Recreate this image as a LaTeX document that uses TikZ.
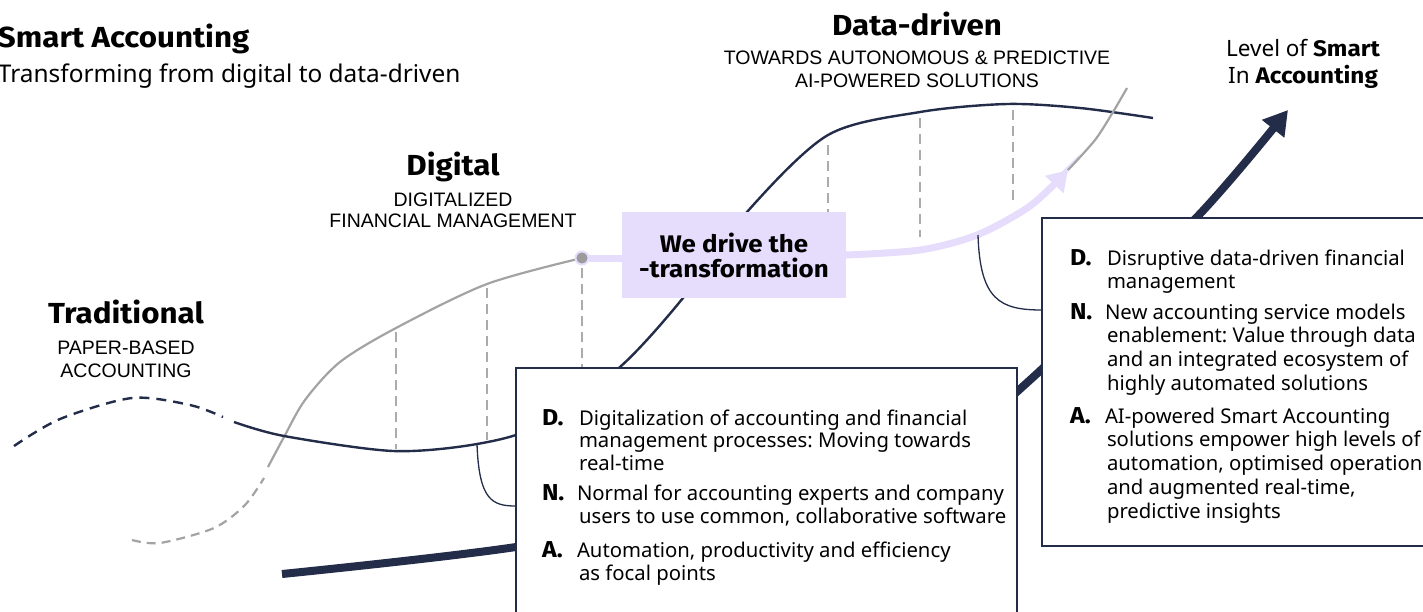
\documentclass[tikz,border=0pt]{standalone}
\usepackage{fontspec}
\setmainfont{Noto Sans}
\newfontfamily\headfont{Fira Sans}[FakeStretch=1.08]
\newfontfamily\capsfont{Liberation Sans}
\usetikzlibrary{arrows.meta}
\definecolor{navy}{HTML}{232C48}
\definecolor{curvegray}{HTML}{A3A3A3}
\definecolor{dashgray}{HTML}{ABABAB}
\definecolor{lav}{HTML}{E6DCFC}
\definecolor{dotgray}{HTML}{9B9B9B}
\frenchspacing
\tikzset{
  every node/.style={inner sep=0pt, outer sep=0pt},
  heading/.style={font=\headfont\bfseries\fontsize{29}{32}\selectfont, anchor=base},
  capsub/.style={font=\capsfont\fontsize{19.5}{23}\selectfont, anchor=base},
  bodyl/.style={font=\fontsize{20.3}{22.5}\selectfont, anchor=base west, align=left},
  bodyr/.style={font=\fontsize{20.3}{23.8}\selectfont, anchor=base west, align=left},
  itemlbl/.style={font=\headfont\bfseries\fontsize{23}{24}\selectfont, anchor=base west},
  vdash/.style={draw=dashgray, line width=2.5pt, dash pattern=on 10pt off 6pt},
  darkline/.style={draw=navy, line width=2.4pt},
  grayline/.style={draw=curvegray, line width=2.2pt},
  calloutline/.style={draw=navy, line width=1.3pt},
  infobox/.style={draw=navy, line width=1.4pt, fill=white, rectangle, anchor=north west},
  purpleline/.style={draw=lav, line width=7pt},
  bigarrow/.style={draw=navy, line width=8pt, -{Triangle[length=24pt,width=27pt]}},
}
\begin{document}
\begin{tikzpicture}[x=1pt,y=-1pt]
\useasboundingbox (0,0) rectangle (1423,611);

% titles
\node[font=\headfont\bfseries\fontsize{29}{32}\selectfont, anchor=base west] (title) at (-2,47) {Smart Accounting};
\node[font=\fontsize{24.4}{28}\selectfont, anchor=base west] (subtitle) at (-2,82) {Transforming from digital to data-driven};

\node[heading] (dd) at (917,35) {Data-driven};
\node[capsub] (dds1) at (917,64) {TOWARDS AUTONOMOUS \& PREDICTIVE};
\node[capsub] (dds2) at (917,87) {AI-POWERED SOLUTIONS};

\node[heading] (dig) at (453,175) {Digital};
\node[capsub] (digs1) at (453,206) {DIGITALIZED};
\node[capsub] (digs2) at (453,227) {FINANCIAL MANAGEMENT};

\node[heading] (trad) at (126,323) {Traditional};
\node[capsub] (trads1) at (126,354) {PAPER-BASED};
\node[capsub] (trads2) at (126,377) {ACCOUNTING};

\node[font=\fontsize{22.5}{26}\selectfont, anchor=base] (lvl1) at (1303,56) {Level of {\headfont\bfseries Smart}};
\node[font=\fontsize{22.5}{26}\selectfont, anchor=base] (lvl2) at (1303,83) {In {\headfont\bfseries Accounting}};

% gray S-curve (digital)
\draw[grayline, dash pattern=on 9pt off 6pt] plot[smooth] coordinates {(132,540) (160,543) (214,528) (245,505) (264,478)};
\draw[grayline] plot[smooth] coordinates {(268,467) (284,437) (305,400) (340,362) (396,328) (487,284) (582,258)};

% dark curve (traditional -> data-driven)
\draw[darkline, dash pattern=on 10pt off 7pt] plot[smooth] coordinates {(14,446) (60,419) (132,398) (190,405) (223,417)};
\draw[darkline] plot[smooth] coordinates {(234,422) (284,436) (393,451) (477,444) (540,425) (620,367) (683,298) (747,212) (828,135) (920,112) (1007,104) (1080,108) (1153,118)};

% dashed verticals
\draw[vdash] (396,332) -- (396,449);
\draw[vdash] (487,288) -- (487,440);
\draw[vdash] (582,268) -- (582,400);
\draw[vdash] (828,145) -- (828,220);
\draw[vdash] (920,118) -- (920,237);
\draw[vdash] (1013,110) -- (1013,200);

% big arrow
\draw[bigarrow] plot[smooth] coordinates {(282,574) (516,547) (800,497) (950,440) (1030,380) (1197,217) (1288,110)};

% purple transformation arrow
\node[fill=lav, minimum width=224pt, minimum height=86pt, align=center,
      font=\headfont\bfseries\fontsize{24}{25}\selectfont] (wedrive) at (734,255) {We drive the\\-transformation};
\node[circle, fill=dotgray, draw=lav, line width=2pt, minimum size=13pt] (dot) at (582,258) {};
\draw[purpleline] (dot.east) -- (wedrive.west |- dot.east);
\draw[purpleline, -{Triangle[length=20pt,width=24pt]}] plot[smooth] coordinates {(wedrive.east) (920,250) (977,235) (1030,206) (1068,170)};
\coordinate (ptip) at (1068,170);
\draw[grayline] plot[smooth] coordinates {(ptip) (1095,140) (1113,112) (1127,88)};

% info boxes
\node[infobox, minimum width=501pt, minimum height=300pt] (leftbox) at (516,368) {};
\node[infobox, minimum width=400pt, minimum height=328pt] (rightbox) at (1042,218) {};

% callouts
\coordinate (c1s) at (477,444);
\coordinate (c1e) at (leftbox.west |- 0,506);
\draw[calloutline] (c1s) .. controls (479,500) and (492,506) .. (c1e);
\coordinate (c2s) at (978,235);
\coordinate (c2e) at (rightbox.west |- 0,310);
\draw[calloutline] (c2s) .. controls (980,300) and (1000,310) .. (c2e);

% left box text (multi-line nodes are anchored at the baseline of their last line)
\node[itemlbl] (ld) at (542,425) {D.};
\node[bodyl] (ldt) at (579,470) {Digitalization of accounting and financial\\management processes: Moving towards\\real-time};
\node[itemlbl] (ln) at (542,500) {N.};
\node[bodyl] (lnt) at (577,523) {Normal for accounting experts and company\\\hspace*{2pt}users to use common, collaborative software};
\node[itemlbl] (la) at (542,557) {A.};
\node[bodyl] (lat) at (577,580) {Automation, productivity and efficiency\\\hspace*{2pt}as focal points};

% right box text
\node[itemlbl] (rd) at (1070,265) {D.};
\node[bodyr] (rdt) at (1107,288.8) {Disruptive data-driven financial\\management};
\node[itemlbl] (rn) at (1070,319) {N.};
\node[bodyr] (rnt) at (1105,390.4) {New accounting service models\\\hspace*{2pt}enablement: Value through data\\\hspace*{2pt}and an integrated ecosystem of\\\hspace*{2pt}highly automated solutions};
\node[itemlbl] (ra) at (1070,423) {A.};
\node[bodyr] (rat) at (1105,518.2) {AI-powered Smart Accounting\\\hspace*{2pt}solutions empower high levels of\\\hspace*{2pt}automation, optimised operations\\\hspace*{2pt}and augmented real-time,\\\hspace*{2pt}predictive insights};
\end{tikzpicture}
\end{document}
